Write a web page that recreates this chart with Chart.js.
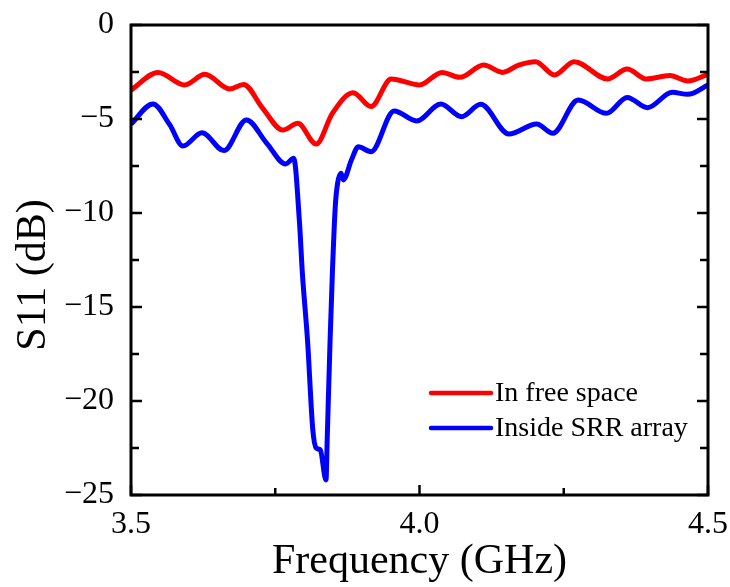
<!DOCTYPE html>
<html>
<head>
<meta charset="utf-8">
<script src="https://cdn.jsdelivr.net/npm/chart.js@4"></script>
<style>
  html, body { margin: 0; padding: 0; background: #fff; }
  #wrap { width: 730px; height: 587px; }
</style>
</head>
<body>
<div id="wrap"><canvas id="s11Chart"></canvas></div>
<script>
// frequency (GHz) and S11 (dB)
const freqFree = [3.5, 3.547, 3.593, 3.628, 3.671, 3.695, 3.728, 3.763, 3.789, 3.821, 3.849, 3.885, 3.916, 3.951, 4.0, 4.039, 4.070, 4.111, 4.144, 4.172, 4.201, 4.234, 4.268, 4.326, 4.360, 4.393, 4.434, 4.465, 4.5];
const s11Free = [-3.46, -2.52, -3.19, -2.62, -3.40, -3.16, -4.42, -5.59, -5.23, -6.33, -4.70, -3.60, -4.34, -2.87, -3.19, -2.52, -2.78, -2.13, -2.52, -2.13, -1.95, -2.66, -1.95, -2.87, -2.34, -2.87, -2.69, -2.98, -2.62];

const freqSrr = [3.5, 3.538, 3.567, 3.590, 3.623, 3.661, 3.700, 3.735, 3.768, 3.782, 3.792, 3.797, 3.806, 3.815, 3.821, 3.828, 3.838, 3.840, 3.845, 3.849, 3.854, 3.858, 3.864, 3.868, 3.882, 3.894, 3.916, 3.956, 3.995, 4.037, 4.073, 4.106, 4.155, 4.203, 4.231, 4.275, 4.324, 4.360, 4.395, 4.438, 4.465, 4.5];
const s11Srr = [-5.27, -4.20, -5.30, -6.44, -5.73, -6.68, -5.05, -6.28, -7.39, -7.09, -10.5, -13.2, -16.8, -21.5, -22.5, -22.6, -24.2, -22.1, -16.8, -13.2, -9.66, -8.43, -7.88, -8.24, -7.18, -6.48, -6.74, -4.57, -5.10, -4.20, -4.88, -4.22, -5.80, -5.27, -5.76, -3.99, -4.70, -3.85, -4.40, -3.58, -3.69, -3.19];

const seriesLabels = ["In free space", "Inside SRR array"];
const xTicks = [3.5, 4.0, 4.5];
const yTicks = [0, -5, -10, -15, -20, -25];
const yTitle = "S11 (dB)";

const FONT = "'Liberation Serif', 'Times New Roman', serif";

const toPoints = (xs, ys) => xs.map((x, i) => ({ x: x, y: ys[i] }));

// box round the plot plus inward major/minor ticks
const framePlugin = {
  id: "frame",
  afterDatasetsDraw(chart) {
    const { ctx, chartArea: a, scales: { x, y } } = chart;
    ctx.save();
    ctx.strokeStyle = "#000";
    ctx.lineWidth = 3;
    ctx.strokeRect(a.left, a.top, a.right - a.left, a.bottom - a.top);
    ctx.lineWidth = 2.5;
    ctx.beginPath();
    for (let i = 0; i < yTicks.length; i++) {
      const py = y.getPixelForValue(yTicks[i]);
      ctx.moveTo(a.left, py); ctx.lineTo(a.left + 11, py);
      ctx.moveTo(a.right, py); ctx.lineTo(a.right - 11, py);
      if (i < yTicks.length - 1) {
        const my = y.getPixelForValue((yTicks[i] + yTicks[i + 1]) / 2);
        ctx.moveTo(a.left, my); ctx.lineTo(a.left + 8, my);
        ctx.moveTo(a.right, my); ctx.lineTo(a.right - 8, my);
      }
    }
    for (let i = 0; i < xTicks.length; i++) {
      const px = x.getPixelForValue(xTicks[i]);
      ctx.moveTo(px, a.bottom); ctx.lineTo(px, a.bottom - 10);
      if (i < xTicks.length - 1) {
        const mx = x.getPixelForValue((xTicks[i] + xTicks[i + 1]) / 2);
        ctx.moveTo(mx, a.bottom); ctx.lineTo(mx, a.bottom - 7);
      }
    }
    ctx.stroke();

    // y title sits a bit below the axis centre in the original
    ctx.font = "42px " + FONT;
    ctx.fillStyle = "#000";
    ctx.textAlign = "center";
    ctx.textBaseline = "middle";
    ctx.translate(34, (a.top + a.bottom) / 2 + 15);
    ctx.rotate(-Math.PI / 2);
    ctx.fillText(yTitle, 0, 0);
    ctx.restore();
  }
};

// legend sitting in the lower right of the plot
const legendPlugin = {
  id: "innerLegend",
  afterDatasetsDraw(chart) {
    const { ctx, chartArea: a } = chart;
    const left = a.right - 277;
    const top = a.bottom - 102;
    ctx.save();
    ctx.font = "28px " + FONT;
    ctx.textBaseline = "middle";
    ctx.fillStyle = "#000";
    chart.data.datasets.forEach((ds, i) => {
      const cy = top + i * 35;
      ctx.strokeStyle = ds.borderColor;
      ctx.lineWidth = 4.5;
      ctx.lineCap = "round";
      ctx.beginPath();
      ctx.moveTo(left, cy); ctx.lineTo(left + 60, cy);
      ctx.stroke();
      ctx.fillText(ds.label, left + 64, cy + 1);
    });
    ctx.restore();
  }
};

new Chart(document.getElementById("s11Chart").getContext("2d"), {
  type: "line",
  data: {
    datasets: [
      {
        label: seriesLabels[0],
        data: toPoints(freqFree, s11Free),
        borderColor: "#ff0000",
        borderWidth: 5,
        pointRadius: 0,
        cubicInterpolationMode: "monotone"
      },
      {
        label: seriesLabels[1],
        data: toPoints(freqSrr, s11Srr),
        borderColor: "#0000ff",
        borderWidth: 5,
        pointRadius: 0,
        cubicInterpolationMode: "monotone"
      }
    ]
  },
  options: {
    responsive: true,
    maintainAspectRatio: false,
    animation: false,
    layout: { padding: { left: 0, right: 20, top: 25, bottom: 0 } },
    plugins: {
      legend: { display: false },
      tooltip: { enabled: false }
    },
    scales: {
      x: {
        type: "linear",
        min: 3.5,
        max: 4.5,
        grid: { display: false },
        border: { display: false },
        afterBuildTicks: (s) => { s.ticks = xTicks.map(v => ({ value: v })); },
        afterFit: (s) => { s.height = 92; },
        ticks: {
          color: "#000",
          padding: 2,
          maxRotation: 0,
          font: { family: FONT, size: 32 },
          callback: (v) => v.toFixed(1)
        },
        title: {
          display: true,
          text: "Frequency (GHz)",
          color: "#000",
          padding: { top: 0, bottom: 0 },
          font: { family: FONT, size: 42 }
        }
      },
      y: {
        min: -25,
        max: 0,
        grid: { display: false },
        border: { display: false },
        afterBuildTicks: (s) => { s.ticks = yTicks.map(v => ({ value: v })); },
        afterFit: (s) => { s.width = 131; },
        ticks: {
          color: "#000",
          padding: 9,
          font: { family: FONT, size: 32, lineHeight: 1 },
          callback: (v) => (v < 0 ? "\u2212" + Math.abs(v) : String(v))
        },
        title: { display: false }
      }
    }
  },
  plugins: [framePlugin, legendPlugin]
});
</script>
</body>
</html>
